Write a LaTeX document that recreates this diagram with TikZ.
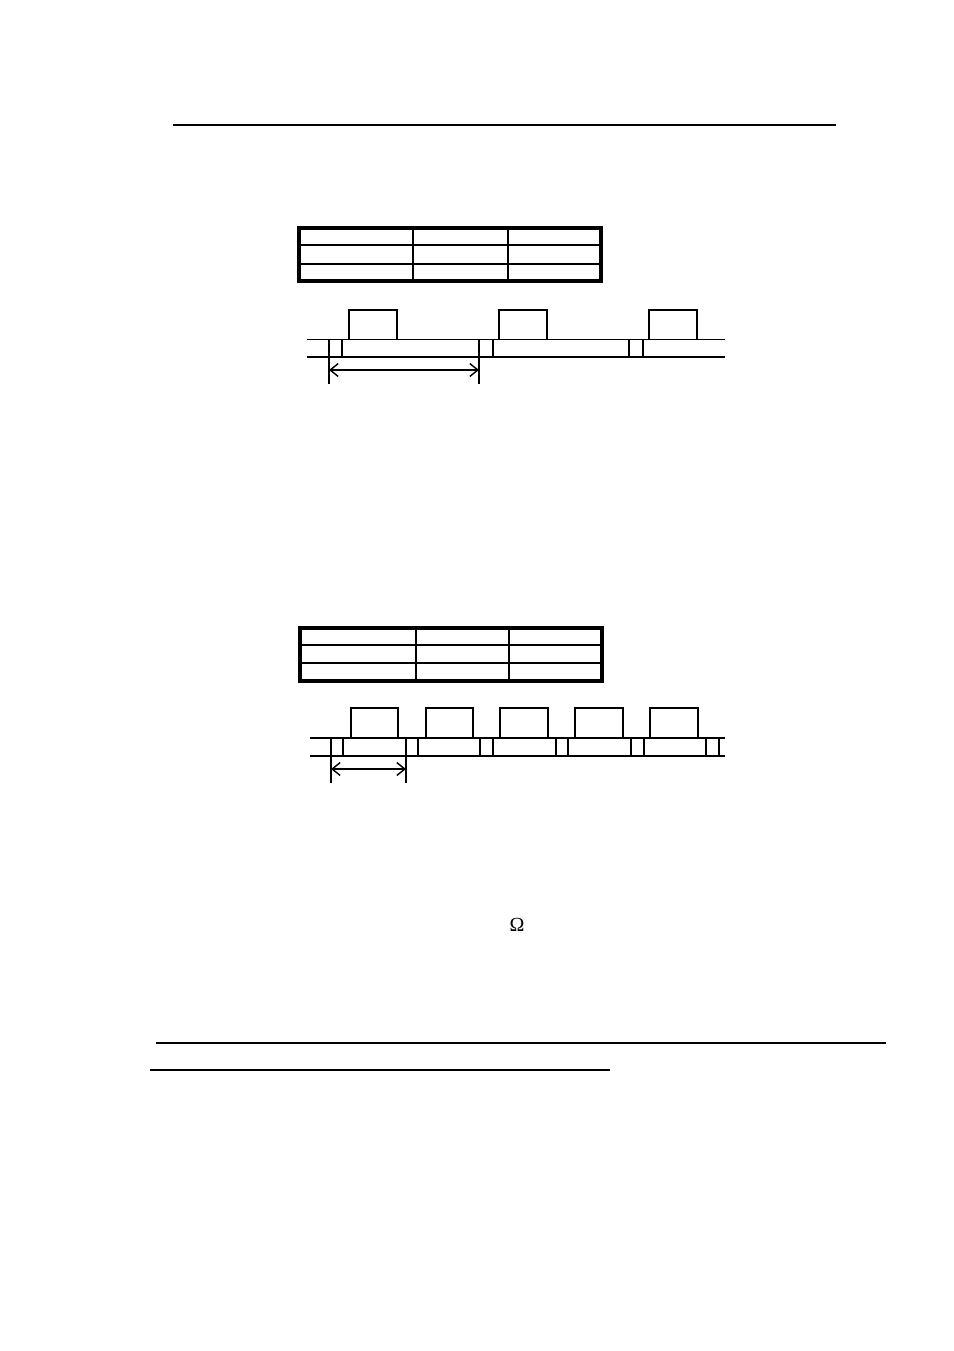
\documentclass[tikz,border=0pt]{standalone}
\usepackage{fontspec}
\newfontfamily\omfont{Liberation Serif}
\usetikzlibrary{arrows.meta}
\begin{document}
\begin{tikzpicture}[x=0.625pt,y=-0.625pt,
  rule/.style={line width=1.3pt},
  tabouter/.style={line width=1.9pt},
  tabinner/.style={line width=1.2pt},
  sig/.style={line width=1.15pt},
  meas/.style={line width=0.9pt,{Straight Barb[length=5pt,width=8pt]}-{Straight Barb[length=5pt,width=8pt]}},
  tick/.style={line width=0.9pt}]
\fill[white] (0,0) rectangle (954,1351);
\useasboundingbox (0,0) rectangle (954,1351);
% top rule
\draw[rule] (173,125) -- (836,125);
% table 1
\draw[tabinner] (299,245) -- (601,245) (299,264) -- (601,264) (413,228) -- (413,281) (508,228) -- (508,281);
\draw[tabouter] (299,228) rectangle (601,281);
% timing 1
\draw[sig] (307,339.5) -- (725,339.5) (307,356.7) -- (725,356.7);
\foreach \a/\b in {349/397,499/547,649/697}{
  \draw[sig] (\a,339.5) -- (\a,310) -- (\b,310) -- (\b,339.5);}
\foreach \x in {329,342,479,493,629,643}{
  \draw[sig] (\x,339.5) -- (\x,356.7);}
\coordinate (a1) at (329,370);
\coordinate (b1) at (479,370);
\draw[tick] (329,357) -- (329,384) (479,357) -- (479,384);
\draw[meas] (a1) -- (b1);
% table 2
\draw[tabinner] (300,645) -- (602,645) (300,663) -- (602,663) (416,628) -- (416,681) (509,628) -- (509,681);
\draw[tabouter] (300,628) rectangle (602,681);
% timing 2
\draw[sig] (310,738) -- (725,738) (310,756) -- (725,756);
\foreach \a/\b in {351/398,426/473,500/548,575/623,650/698}{
  \draw[sig] (\a,738) -- (\a,708) -- (\b,708) -- (\b,738);}
\foreach \x in {331,343,406,418,480,493,556,568,631,644,706,719}{
  \draw[sig] (\x,738) -- (\x,756);}
\coordinate (a2) at (331,769);
\coordinate (b2) at (406,769);
\draw[tick] (331,756) -- (331,783) (406,756) -- (406,783);
\draw[meas] (a2) -- (b2);
% omega
\node[font=\omfont\fontsize{12.5}{14}\selectfont] (om) at (517,925) {Ω};
% bottom rules
\draw[line width=1.5pt] (156,1042.7) -- (886,1042.7);
\draw[line width=0.85pt] (150,1070) -- (610,1070);
\end{tikzpicture}
\end{document}
